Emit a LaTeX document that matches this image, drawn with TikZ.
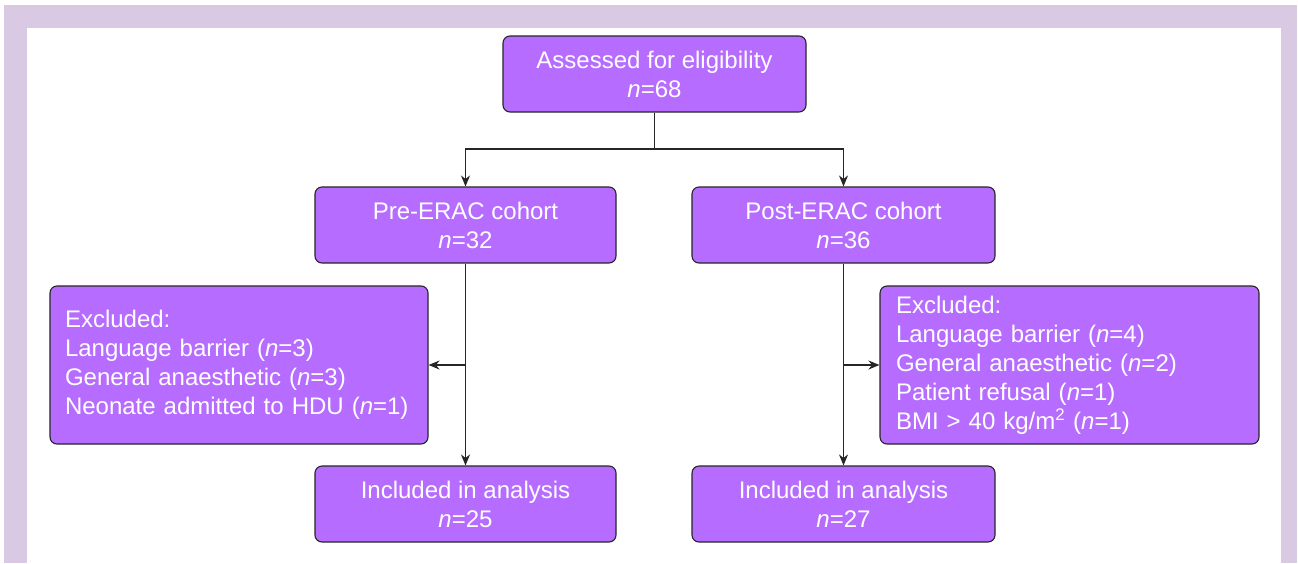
\documentclass[tikz,border=0pt]{standalone}
\usepackage{fontspec}
\setmainfont{Liberation Sans}
\usetikzlibrary{arrows.meta}
\definecolor{framecol}{HTML}{D9C9E3}
\definecolor{boxfill}{HTML}{B66DFF}
\begin{document}
\begin{tikzpicture}[x=1pt,y=-1pt,
 box/.style={draw=black!85, line width=1.1pt, fill=boxfill, rounded corners=7pt, text=white,
   font=\fontsize{24}{29}\selectfont, align=center, inner sep=0pt},
 exbox/.style={box, align=left, inner xsep=15pt, minimum height=158},
 flow/.style={draw=black!85, line width=1.2pt, -{Stealth[length=11pt,width=9pt]}},
 plain/.style={draw=black!85, line width=1.2pt}]
\useasboundingbox (0,0) rectangle (1298,563);
\fill[framecol] (4,5) rectangle (1297,563);
\fill[white] (27,28) rectangle (1281,563);
\node[box, minimum width=303, minimum height=76] (top) at (654.5,74) {Assessed for eligibility\\\textit{n}=68};
\node[box, minimum width=301, minimum height=76] (pre) at (465.5,225) {Pre-ERAC cohort\\\textit{n}=32};
\node[box, minimum width=303, minimum height=76] (post) at (843.5,225) {Post-ERAC cohort\\\textit{n}=36};
\node[exbox, text width=348] (exl) at (239,365) {Excluded:\\Language barrier (\textit{n}=3)\\General anaesthetic (\textit{n}=3)\\Neonate admitted to HDU (\textit{n}=1)};
\node[exbox, text width=347, inner xsep=16pt] (exr) at (1069.5,365) {Excluded:\\Language barrier (\textit{n}=4)\\General anaesthetic (\textit{n}=2)\\Patient refusal (\textit{n}=1)\\BMI > 40 kg/m\textsuperscript{2} (\textit{n}=1)};
\node[box, minimum width=301, minimum height=76] (inl) at (465.5,504) {Included in analysis\\\textit{n}=25};
\node[box, minimum width=303, minimum height=76] (inr) at (843.5,504) {Included in analysis\\\textit{n}=27};
\coordinate (split) at (654.5,149);
\draw[plain] (top.south) -- (split);
\draw[flow] (split) -| (pre.north);
\draw[flow] (split) -| (post.north);
\draw[flow] (pre.south) -- (inl.north);
\draw[flow] (post.south) -- (inr.north);
\draw[flow] (pre.south |- exl.east) -- (exl.east);
\draw[flow] (post.south |- exr.west) -- (exr.west);
\end{tikzpicture}
\end{document}
